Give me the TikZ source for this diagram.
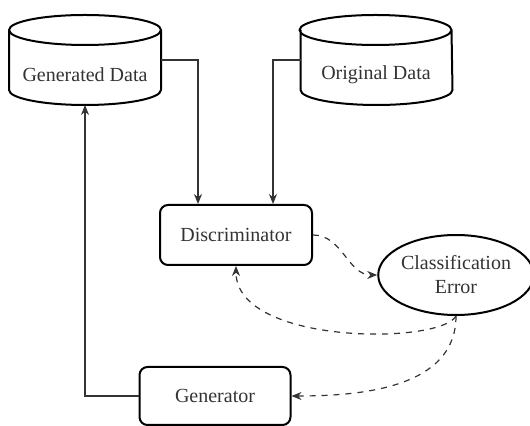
\documentclass[tikz,border=0pt]{standalone}
\usepackage{fontspec}
\setmainfont{Liberation Serif}
\usepackage{tikz}
\usetikzlibrary{shapes.geometric,arrows.meta}

% outline of a data store round a node (cap above the node)
\newcommand{\drawstore}[1]{%
  \draw[line width=1pt] ([yshift=7.5pt]#1.north west) -- ([yshift=7.5pt]#1.south west)
    arc[start angle=180, end angle=360, x radius=38pt, y radius=7.5pt]
    -- ([yshift=7.5pt]#1.north east)
    arc[start angle=0, end angle=360, x radius=38pt, y radius=7.5pt];}

\begin{document}
\begin{tikzpicture}[x=0.5pt, y=-0.5pt, font=\fontsize{10}{12}\selectfont,
  store/.style = {outer sep=0pt, minimum width=76pt, minimum height=30pt, text=black!80},
  block/.style = {draw, line width=1pt, rounded corners=4pt, minimum height=30pt, text=black!80},
  error/.style = {draw, line width=1pt, ellipse, minimum width=74pt, minimum height=40pt,
                  inner sep=0pt, align=center, text=black!80},
  flow/.style = {line width=0.6pt, -{Stealth[length=5pt,width=4pt]}, black!80},
  fb/.style = {flow, dashed}]
\useasboundingbox (0,0) rectangle (530,426);
\node[store] (gd) at (85,75) {Generated Data};
\node[store, minimum width=75.5pt] (od) at (376,75) {Original Data};
\drawstore{gd}
\drawstore{od}
\node[block, minimum width=76pt] (disc) at (236,235) {Discriminator};
\node[error] (ce) at (456,275) {Classification\\Error};
\node[block, minimum width=75.5pt, minimum height=29pt] (gen) at (215,396) {Generator};
\draw[flow] ([yshift=7.5pt]gd.east) -| ([xshift=-19pt]disc.north);
\draw[flow] ([yshift=7.5pt]od.west) -| ([xshift=18.5pt]disc.north);
\draw[flow] (gen.west) -| (gd.south);
\draw[fb] (disc.east) to[out=0, in=180] (ce.west);
\draw[fb] (ce.south) .. controls (440,345) and (236,345) .. (disc.south);
\draw[fb] (ce.south) to[out=-90, in=0] (gen.east);
\end{tikzpicture}
\end{document}
